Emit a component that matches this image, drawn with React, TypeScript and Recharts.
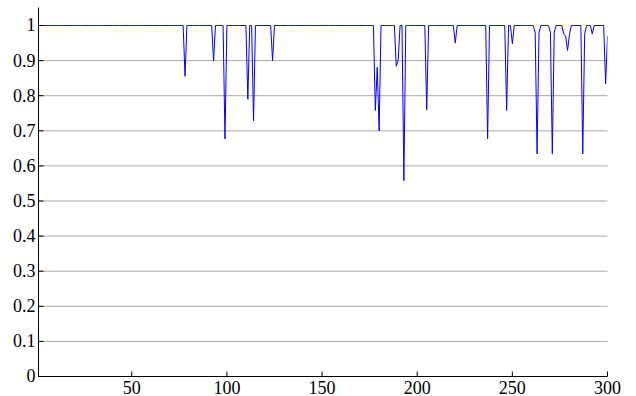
import React from "react";
import {
  LineChart,
  Line,
  XAxis,
  YAxis,
  CartesianGrid,
} from "recharts";

// samples 1..300, ten per row
const values: number[] = [
  1, 1, 1, 1, 1, 1, 1, 1, 1, 1,
  1, 1, 1, 1, 1, 1, 1, 1, 1, 1,
  1, 1, 1, 1, 1, 1, 1, 1, 1, 1,
  1, 1, 1, 1, 1, 1, 1, 1, 1, 1,
  1, 1, 1, 1, 1, 1, 1, 1, 1, 1,
  1, 1, 1, 1, 1, 1, 1, 1, 1, 1,
  1, 1, 1, 1, 1, 1, 1, 1, 1, 1,
  1, 1, 1, 1, 1, 1, 1, 0.855, 1, 1,
  1, 1, 1, 1, 1, 1, 1, 1, 1, 1,
  1, 1, 0.9, 1, 1, 1, 1, 1, 0.677, 1,
  1, 1, 1, 1, 1, 1, 1, 1, 1, 1,
  0.79, 1, 1, 0.728, 1, 1, 1, 1, 1, 1,
  1, 1, 1, 0.9, 1, 1, 1, 1, 1, 1,
  1, 1, 1, 1, 1, 1, 1, 1, 1, 1,
  1, 1, 1, 1, 1, 1, 1, 1, 1, 1,
  1, 1, 1, 1, 1, 1, 1, 1, 1, 1,
  1, 1, 1, 1, 1, 1, 1, 1, 1, 1,
  1, 1, 1, 1, 1, 1, 1, 0.758, 0.881, 0.7,
  1, 1, 1, 1, 1, 1, 1, 1, 0.884, 0.9,
  1, 1, 0.558, 1, 1, 1, 1, 1, 1, 1,
  1, 1, 1, 1, 0.76, 1, 1, 1, 1, 1,
  1, 1, 1, 1, 1, 1, 1, 1, 1, 0.95,
  1, 1, 1, 1, 1, 1, 1, 1, 1, 1,
  1, 1, 1, 1, 1, 1, 0.677, 1, 1, 1,
  1, 1, 1, 1, 1, 1, 0.758, 1, 1, 0.948,
  1, 1, 1, 1, 1, 1, 1, 1, 1, 1,
  1, 0.98, 0.634, 0.98, 1, 1, 1, 1, 1, 0.98,
  0.634, 0.98, 1, 1, 1, 1, 0.976, 0.97, 0.929, 0.975,
  1, 1, 1, 1, 1, 1, 0.634, 0.976, 1, 1,
  1, 0.976, 1, 1, 1, 1, 1, 1, 0.834, 0.97,
];

const xTicks = [50, 100, 150, 200, 250, 300];
const yTicks = [0, 0.1, 0.2, 0.3, 0.4, 0.5, 0.6, 0.7, 0.8, 0.9, 1];
const yLabels = ["0", "0.1", "0.2", "0.3", "0.4", "0.5", "0.6", "0.7", "0.8", "0.9", "1"];
const gridTicks = [0.1, 0.2, 0.3, 0.4, 0.5, 0.6, 0.7, 0.8, 0.9];

const data = values.map((v, i) => ({ n: i + 1, v }));

const labelStyle: React.CSSProperties = {
  fontFamily: '"Liberation Serif", "Times New Roman", serif',
  fontSize: "18px",
};

const LeftTick = (props: any) => {
  const { x, y, index } = props;
  return (
    <g>
      <line x1={x} x2={x + 5} y1={y} y2={y} stroke="#000" />
      <text x={x - 3} y={y} dy="0.33em" textAnchor="end" fill="#000" style={labelStyle}>
        {yLabels[index]}
      </text>
    </g>
  );
};

const RightTick = (props: any) => {
  const { x, y } = props;
  return <line x1={x} x2={x - 5} y1={y} y2={y} stroke="#000" />;
};

const BottomTick = (props: any) => {
  const { x, y, payload } = props;
  return (
    <g>
      <line x1={x} x2={x} y1={y} y2={y - 5} stroke="#000" />
      <text x={x} y={y + 17} textAnchor="middle" fill="#000" style={labelStyle}>
        {payload.value}
      </text>
    </g>
  );
};

const TopTick = (props: any) => {
  const { x, y } = props;
  return <line x1={x} x2={x} y1={y} y2={y + 5} stroke="#000" />;
};

export default function App() {
  return (
    <div style={{ position: "absolute", left: 0, top: 0, width: 636, height: 396, background: "#fff" }}>
      <LineChart
        width={636}
        height={396}
        data={data}
        margin={{ top: 7.5, right: 28.5, left: 0, bottom: 0 }}
      >
        <CartesianGrid
          vertical={false}
          stroke="#a8a8a8"
          horizontalValues={gridTicks}
        />
        <XAxis
          dataKey="n"
          type="number"
          domain={[1, 300]}
          ticks={xTicks}
          allowDataOverflow
          height={19.5}
          tickSize={0}
          tickMargin={0}
          tickLine={false}
          axisLine={{ stroke: "#000" }}
          tick={<BottomTick />}
          interval={0}
        />
        <XAxis
          xAxisId="top"
          orientation="top"
          type="number"
          domain={[1, 300]}
          ticks={xTicks}
          allowDataOverflow
          height={0}
          tickSize={0}
          tickMargin={0}
          tickLine={false}
          axisLine={{ stroke: "#000" }}
          tick={<TopTick />}
          interval={0}
        />
        <YAxis
          type="number"
          domain={[0, 1.0513]}
          ticks={yTicks}
          allowDataOverflow
          width={38.5}
          tickSize={0}
          tickMargin={0}
          tickLine={false}
          axisLine={{ stroke: "#000" }}
          tick={<LeftTick />}
          interval={0}
        />
        <YAxis
          yAxisId="right"
          orientation="right"
          type="number"
          domain={[0, 1.0513]}
          ticks={gridTicks}
          allowDataOverflow
          width={0}
          tickSize={0}
          tickMargin={0}
          tickLine={false}
          axisLine={{ stroke: "#000" }}
          tick={<RightTick />}
          interval={0}
        />
        <Line
          type="linear"
          dataKey="v"
          stroke="#0000ff"
          strokeWidth={1}
          dot={false}
          activeDot={false}
          isAnimationActive={false}
        />
      </LineChart>
    </div>
  );
}
